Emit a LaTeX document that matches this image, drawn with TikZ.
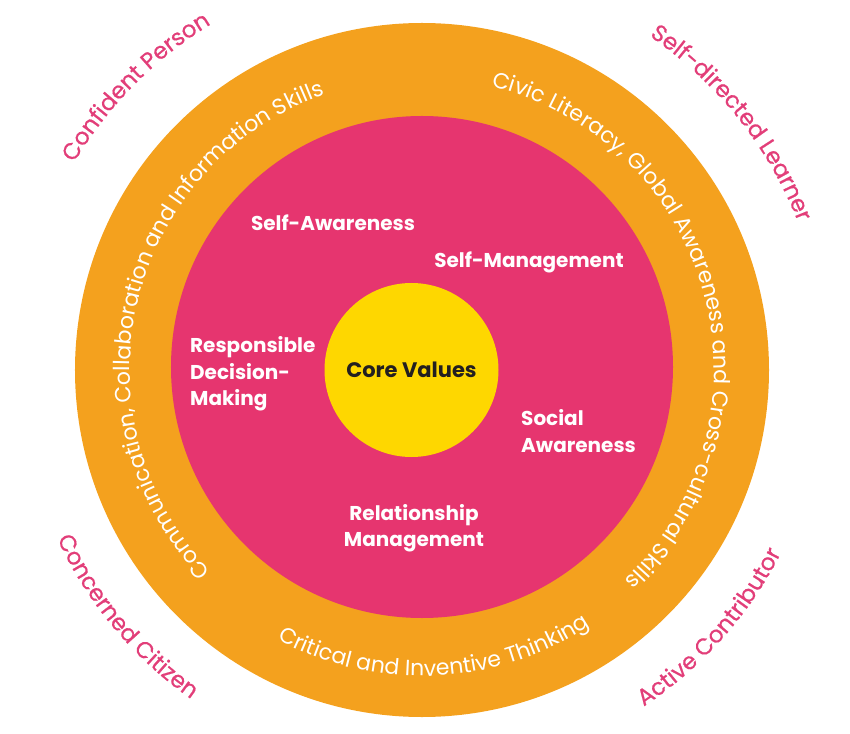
\documentclass[tikz,border=0pt]{standalone}
\usepackage{fontspec}
\setmainfont{Poppins}
\newfontfamily\outerfam[FakeBold=0.6]{Poppins}
\usetikzlibrary{decorations.text}
\definecolor{ringorange}{RGB}{244,161,30}
\definecolor{diskpink}{RGB}{230,53,111}
\definecolor{coreyellow}{RGB}{254,215,0}
\definecolor{labelpink}{RGB}{226,62,121}
\definecolor{coretext}{RGB}{35,31,32}
\newcommand{\ringfont}{\fontsize{22}{24}\selectfont\color{white}}
\newcommand{\outerfont}{\outerfam\fontsize{23}{25}\selectfont\color{labelpink}}
\tikzstyle{skill} = [text=white, font=\bfseries\fontsize{20}{26.5}\selectfont, align=left, inner sep=0pt]
\tikzstyle{core} = [circle, fill=coreyellow, minimum size=174pt, inner sep=0pt,
    text=coretext, font=\bfseries\fontsize{21}{24}\selectfont]
\tikzstyle{ringtext} = [decorate, decoration={text along path, text align=center}]

\begin{document}
\begin{tikzpicture}[x=1pt, y=1pt]
    \useasboundingbox (-422,-363) rectangle (428,370);
    % Place discs
    \fill [ringorange] (0,0) circle (347);
    \fill [diskpink] (0,3) circle (251);
    \node [core] (core) at (-10.5,0) {Core Values};
    % Place labels
    \node [skill] (awareness) at (-89,147) {Self-Awareness};
    \node [skill] (management) at (107,108) {Self-Management};
    \node [skill, anchor=west] (decision) at (-232,-4) {Responsible\\Decision-\\Making};
    \node [skill, anchor=west] (social) at (99,-61) {Social\\Awareness};
    \node [skill, align=center] (relationship) at (-8,-158) {Relationship\\Management};
    % Ring texts
    \path [ringtext, decoration={text={|\ringfont|Communication, Collaboration and Information Skills}}]
        (256.5:292) arc [start angle=256.5, end angle=76.5, radius=292];
    \path [ringtext, decoration={text={|\ringfont|Civic Literacy, Global Awareness and Cross-cultural Skills}}]
        (105:292) arc [start angle=105, end angle=-75, radius=292];
    \path [ringtext, decoration={text={|\ringfont|Critical and Inventive Thinking}}]
        (207.6:306) arc [start angle=207.6, end angle=337.6, radius=306];
    % Outcomes
    \path [ringtext, decoration={text={|\outerfont|Confident Person}}]
        (185.3:405) arc [start angle=185.3, end angle=85.3, radius=405];
    \path [ringtext, decoration={text={|\outerfont|Self-directed Learner}}]
        (88.6:404) arc [start angle=88.6, end angle=-11.4, radius=404];
    \path [ringtext, decoration={text={|\outerfont|Concerned Citizen}}]
        (169.9:402) arc [start angle=169.9, end angle=269.9, radius=402];
    \path [ringtext, decoration={text={|\outerfont|Active Contributor}}]
        (268.2:403) arc [start angle=268.2, end angle=368.2, radius=403];
\end{tikzpicture}
\end{document}
